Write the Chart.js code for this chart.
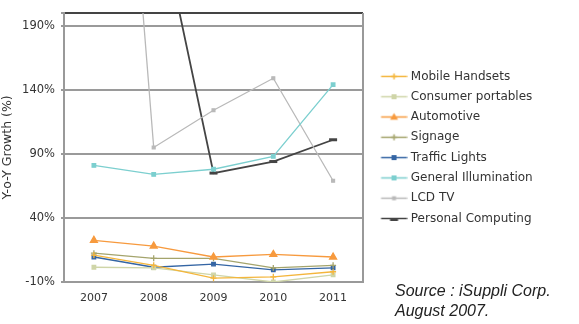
<!DOCTYPE html>
<html>
<head>
<meta charset="utf-8">
<script src="https://cdn.jsdelivr.net/npm/chart.js@4.4.1/dist/chart.umd.min.js"></script>
<style>
  html, body { margin: 0; padding: 0; background: #fff; }
  #wrap { position: relative; width: 579px; height: 324px; overflow: hidden; }
  #chart { position: absolute; left: 0; top: 0; }
  .src { position: absolute; left: 395px; font: italic 16px "Liberation Sans", Arial, sans-serif; color: #222; white-space: nowrap; }
</style>
</head>
<body>
<div id="wrap">
  <canvas id="chart" width="579" height="324"></canvas>
  <div class="src" style="top:282px">Source : iSuppli Corp.</div>
  <div class="src" style="top:302px">August 2007.</div>
</div>
<script>
// Year-on-year growth by application segment
const years = ['2007', '2008', '2009', '2010', '2011'];
const yTicks = [-10, 40, 90, 140, 190, 200];

const mobileHandsets      = [11, 3, -7, -6, -2];
const consumerPortables   = [1.5, 1, -4.5, -10, -4.5];
const automotive          = [22.5, 18, 9.5, 11.5, 9.5];
const signage             = [12.5, 8.5, 8.5, 1, 3];
const trafficLights       = [9.5, 1.5, 4, -0.5, 1];
const generalIllumination = [81, 74, 78, 88, 144];
const lcdTv               = [680, 95, 124, 149, 69];
const personalComputing   = [260, 295, 75, 84, 101];

const seriesNames = ['Mobile Handsets', 'Consumer portables', 'Automotive', 'Signage',
  'Traffic Lights', 'General Illumination', 'LCD TV', 'Personal Computing'];
const seriesData = [mobileHandsets, consumerPortables, automotive, signage,
  trafficLights, generalIllumination, lcdTv, personalComputing];

const styles = [
  { color: '#f4b63c', point: 'cross',    r: 3 },
  { color: '#cfd5a8', point: 'rect',     r: 2.5 },
  { color: '#f79a3e', point: 'triangle', r: 4 },
  { color: '#a4a46c', point: 'cross',    r: 3 },
  { color: '#3465a4', point: 'rect',     r: 2.5 },
  { color: '#7ccfcf', point: 'rect',     r: 2.5 },
  { color: '#b9b9b9', point: 'rect',     r: 2 },
  { color: '#444444', point: 'line',     r: 4 }
];

// Legend sample: a short line with the series marker in the middle
function legendIcon(s) {
  const c = document.createElement('canvas');
  c.width = 39; c.height = 11;
  const g = c.getContext('2d');
  g.strokeStyle = s.color; g.fillStyle = s.color; g.lineWidth = 1.5;
  g.beginPath(); g.moveTo(12.5, 5.5); g.lineTo(38.5, 5.5); g.stroke();
  const cx = 25.5, cy = 5.5, r = s.r;
  g.beginPath();
  if (s.point === 'cross') {
    g.moveTo(cx, cy - r); g.lineTo(cx, cy + r); g.moveTo(cx - r, cy); g.lineTo(cx + r, cy); g.stroke();
  } else if (s.point === 'triangle') {
    g.moveTo(cx, cy - r); g.lineTo(cx + r, cy + r * 0.7); g.lineTo(cx - r, cy + r * 0.7); g.closePath(); g.fill();
  } else if (s.point === 'line') {
    g.lineWidth = 3; g.moveTo(cx - r, cy + 1); g.lineTo(cx + r, cy + 1); g.stroke();
  } else {
    g.fillRect(cx - r, cy - r, 2 * r, 2 * r);
  }
  return c;
}
const icons = styles.map(legendIcon);

const datasets = seriesNames.map((name, i) => ({
  label: name,
  data: seriesData[i],
  borderColor: styles[i].color,
  backgroundColor: styles[i].color,
  borderWidth: i === 7 ? 1.8 : 1.3,
  pointStyle: styles[i].point,
  pointRadius: styles[i].r,
  pointBorderWidth: i === 7 ? 3 : 1.3,
  pointHoverRadius: styles[i].r,
  tension: 0,
  fill: false
}));

// Right edge of the plot frame
const frame = {
  id: 'frame',
  beforeDatasetsDraw(chart) {
    const { ctx, chartArea: a } = chart;
    ctx.save();
    ctx.strokeStyle = '#999';
    ctx.lineWidth = 2;
    ctx.beginPath();
    ctx.moveTo(a.right, a.top);
    ctx.lineTo(a.right, a.bottom + 1);
    ctx.stroke();
    ctx.restore();
  }
};

// Give the legend column a fixed width so the plot keeps its right edge
const LEGEND_WIDTH = 216;
const legendWidth = {
  id: 'legendWidth',
  beforeLayout(chart) {
    const lg = chart.legend;
    if (lg && !lg._fixedWidth) {
      const fit = lg.fit;
      lg.fit = function () { fit.call(this); this.width = LEGEND_WIDTH; };
      lg._fixedWidth = true;
    }
  }
};

new Chart(document.getElementById('chart'), {
  type: 'line',
  data: { labels: years, datasets },
  plugins: [frame, legendWidth],
  options: {
    responsive: false,
    animation: false,
    devicePixelRatio: 1,
    layout: { padding: { top: 12, right: 0, bottom: 0, left: 0 } },
    plugins: {
      tooltip: { enabled: false },
      legend: {
        position: 'right',
        align: 'center',
        fullSize: false,
        labels: {
          usePointStyle: true,
          pointStyleWidth: 33.5,
          boxHeight: 12,
          padding: 8.3,
          color: '#333',
          font: { family: 'DejaVu Sans', size: 12 },
          generateLabels(chart) {
            const items = Chart.defaults.plugins.legend.labels.generateLabels(chart);
            items.forEach((it, i) => { it.pointStyle = icons[i]; it.rotation = 0; });
            return items;
          }
        }
      }
    },
    scales: {
      x: {
        offset: true,
        grid: { display: false },
        border: { display: true, color: '#999', width: 2 },
        ticks: { color: '#333', padding: 2, font: { family: 'DejaVu Sans', size: 11 } },
        afterFit(scale) { scale.height = 42; }
      },
      y: {
        min: -10,
        max: 200,
        afterBuildTicks(scale) { scale.ticks = yTicks.map(v => ({ value: v })); },
        grid: {
          color: c => (c.tick && c.tick.value === 200) ? '#444' : '#9a9a9a',
          lineWidth: 2,
          drawTicks: true,
          tickLength: 3,
          tickColor: '#999'
        },
        border: { display: true, color: '#999', width: 2 },
        ticks: {
          color: '#333',
          padding: 6,
          font: { family: 'DejaVu Sans', size: 11.5 },
          callback: v => v === 200 ? '' : v + '%'
        },
        title: {
          display: true,
          text: 'Y-o-Y Growth (%)',
          color: '#333',
          padding: 0,
          font: { family: 'DejaVu Sans', size: 12.5 }
        },
        afterFit(scale) { scale.width = 64; }
      }
    }
  }
});
</script>
</body>
</html>
